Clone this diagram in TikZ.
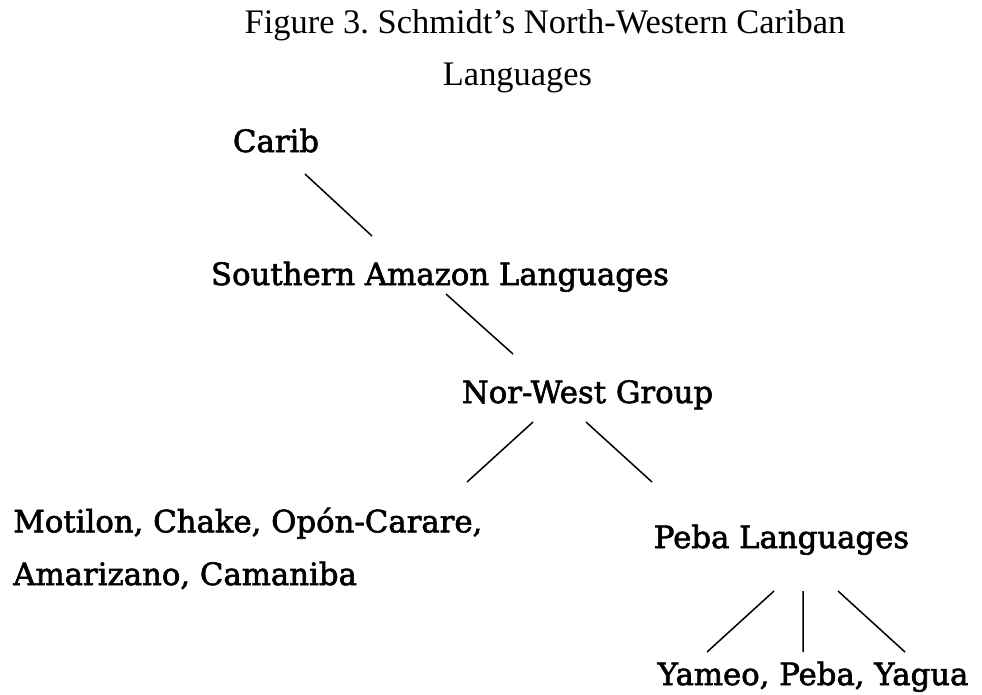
\documentclass[tikz,border=0pt]{standalone}
\usepackage{fontspec}
\setmainfont[FakeBold=2]{DejaVu Serif}
\newfontfamily\titlefont{Liberation Serif}
\usetikzlibrary{positioning}
\tikzset{
  lang/.style={inner sep=0pt,anchor=base,font=\fontsize{17.5}{30}\selectfont},
  caption/.style={inner sep=0pt,anchor=base,font=\titlefont\fontsize{19.6}{22}\selectfont},
  branch/.style={draw=black,line width=0.85pt},
}

\begin{document}
\begin{tikzpicture}[x=0.02cm,y=-0.02cm]
\useasboundingbox (0,0) rectangle (982,694);
% title
\node[caption] (fig) at (545,33) {Figure 3.\ Schmidt’s North-Western Cariban};
\node[caption] (figb) at (517.5,85) {Languages};
% tree
\node[lang] (carib) at (276,152) {Carib};
\node[lang] (sal) at (440,285) {Southern Amazon Languages};
\node[lang] (nwg) at (587.5,403) {Nor-West Group};
\node[lang,anchor=base west,align=left] (motilon) at (13,585) {Motilon, Chake, Opón-Carare,\\Amarizano, Camaniba};
\node[lang] (peba) at (781.5,548) {Peba Languages};
\node[lang] (yameo) at (813,685) {Yameo, Peba, Yagua};
% branches
\draw[branch] ([shift={(29,22)}]carib.base) -- ([shift={(-68,-49)}]sal.base);
\draw[branch] ([shift={(6,9)}]sal.base) -- ([shift={(-74.5,-49)}]nwg.base);
\draw[branch] ([shift={(-54.5,19)}]nwg.base) -- ([shift={(454,-103)}]motilon.base west);
\draw[branch] ([shift={(-1.5,19)}]nwg.base) -- ([shift={(-129.5,-66)}]peba.base);
\foreach \a/\b in {-7.5/-106,21.5/-10,56.5/92}
  \draw[branch] ([shift={(\a,43)}]peba.base) -- ([shift={(\b,-33)}]yameo.base);
\end{tikzpicture}
\end{document}
